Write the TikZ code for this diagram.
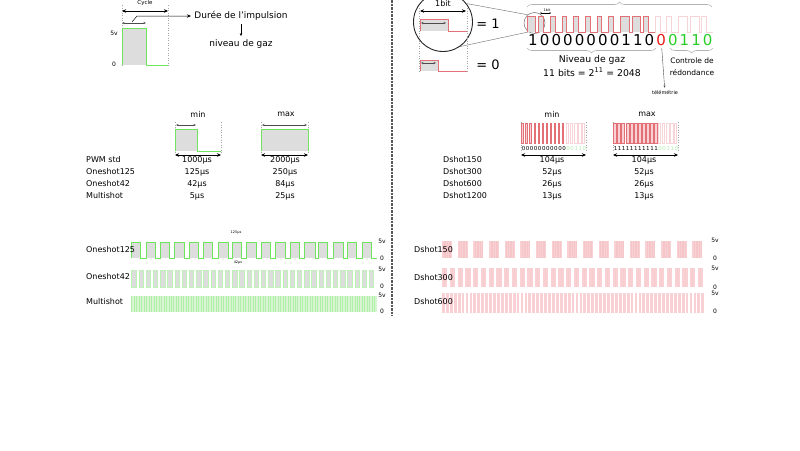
\documentclass[tikz,border=0pt]{standalone}
\usepackage{fontspec}
\setmainfont{DejaVu Sans}
\usetikzlibrary{arrows.meta,decorations.pathreplacing}
\definecolor{pwmgreen}{RGB}{110,228,95}
\definecolor{pulsegray}{RGB}{221,221,221}
\definecolor{dred}{RGB}{226,112,118}
\definecolor{dpink}{RGB}{249,208,211}
\definecolor{dfaint}{RGB}{246,212,215}
\definecolor{bitred}{RGB}{232,24,24}
\definecolor{bitgreen}{RGB}{40,205,40}
\definecolor{msgreen}{RGB}{216,244,210}
\begin{document}
\begin{tikzpicture}[x=1pt,y=-1pt,
    txt/.style={inner sep=0pt,font=\fontsize{8}{10}\selectfont},
    lbl/.style={txt,anchor=west},
    volt/.style={inner sep=0pt,font=\fontsize{6}{7}\selectfont},
    bit/.style={inner sep=0pt,font=\fontsize{15}{16}\selectfont},
    dim/.style={{Stealth[length=4pt,width=3.5pt]}-{Stealth[length=4pt,width=3.5pt]},line width=0.6pt},
    tick/.style={{Stealth[length=2.5pt,width=2pt]}-{Stealth[length=2.5pt,width=2pt]},line width=0.4pt,black!70},
    border/.style={gray!70,dotted,line width=0.5pt},
    gbrace/.style={decorate,decoration={brace,amplitude=5pt},gray!60,line width=0.6pt}]
    \useasboundingbox (0,0) rectangle (800,450);

    \draw[border] (122,5) -- (122,66);
    \draw[border] (168,5) -- (168,66);
    \fill[pulsegray] (122,28) rectangle (146,65);
    \draw[pwmgreen,line width=1pt] (122,65) -- (122,28) -- (146,28) -- (146,65) -- (168,65);
    \draw[dim] (122,11) -- (168,11);
    \draw[tick] (122,23) -- (146,23);
    \node[inner sep=0pt,font=\fontsize{5.5}{6}\selectfont] (cyc) at (145,3) {Cycle};
    \node[volt] (v5a) at (114,33) {5v};
    \node[volt] (v0a) at (114,64) {0};
    \node[font=\fontsize{9}{10}\selectfont] (dur) at (241,16) {Durée de l'impulsion};
    \node[font=\fontsize{9}{10}\selectfont] (gaz) at (241,44) {niveau de gaz};
    \coordinate (pw) at (132,22);
    \draw[-{Stealth[length=4pt,width=3.5pt]},line width=0.5pt] (pw) -- (137,16) -- (dur.west);
    \draw[-{Stealth[length=3pt,width=2.5pt]},line width=0.5pt] (dur) -- (gaz);

    \draw[black!65,line width=1.2pt,dash pattern=on 2.5pt off 1pt] (392,0) -- (392,316);

    \node[circle,draw=black!85,line width=0.9pt,minimum size=59pt,inner sep=0pt] (lens) at (443,22) {};
    \node[circle,draw=gray,line width=0.6pt,minimum size=21pt,inner sep=0pt] (bitc) at (534.5,23) {};
    \draw[gray,line width=0.5pt] (lens.38) -- (bitc.130);
    \draw[gray,line width=0.5pt] (lens.-55) -- (bitc.236);
    \draw[border] (419,8) -- (419,72);
    \draw[border] (467,8) -- (467,72);
    \node[inner sep=0pt,font=\fontsize{8}{9}\selectfont] (onebit) at (443,4) {1bit};
    \draw[dim] (420,11) -- (466,11);
    \fill[pulsegray] (420,19) rectangle (448,31);
    \draw[dred,line width=0.8pt] (420,31) -- (420,19) -- (448,19) -- (448,31) -- (467,31);
    \draw[tick] (421,23) -- (446,23);
    \fill[pulsegray] (420,60) rectangle (438,71);
    \draw[dred,line width=0.8pt] (420,71) -- (420,60) -- (438,60) -- (438,71) -- (467,71);
    \draw[tick] (421,63) -- (436,63);
    \node[inner sep=0pt,font=\fontsize{13}{14}\selectfont] (eq1) at (488,24) {= 1};
    \node[inner sep=0pt,font=\fontsize{13}{14}\selectfont] (eq0) at (488,65) {= 0};

    \foreach \b [count=\i from 0] in {1,0,0,0,0,0,0,0,1,1,0}
        \fill[pulsegray] ({527+\i*11.65},16) rectangle ++({4.8+4.0*\b},16);
    \draw[dred,line width=0.7pt] (527,32) \foreach \b [count=\i from 0] in {1,0,0,0,0,0,0,0,1,1,0} {
        -- ({527+\i*11.65},32) -- ++(0,-16) -- ++({4.8+4.0*\b},0) -- ++(0,16) } -- (655,32);
    \draw[dfaint,line width=0.7pt] (655,32) \foreach \b [count=\i from 11] in {0,0,1,1,0} {
        -- ({527+\i*11.65},32) -- ++(0,-16) -- ++({4.8+4.0*\b},0) -- ++(0,16) } -- (713,32);
    \node[inner sep=0pt,font=\fontsize{3.5}{4}\selectfont] (bitlen) at (547,10) {1bit};
    \draw[{Stealth[length=1.5pt,width=1.5pt]}-{Stealth[length=1.5pt,width=1.5pt]},line width=0.3pt] (540,13) -- (551,13);
    \foreach \b/\c [count=\i from 0] in {1/black,0/black,0/black,0/black,0/black,0/black,0/black,0/black,1/black,1/black,0/black,0/bitred,0/bitgreen,1/bitgreen,1/bitgreen,0/bitgreen}
        \node[bit,text=\c] (d\i) at ({533+\i*11.65},40) {\b};
    \draw[gbrace] (527,7) -- (712,7);
    \draw[gbrace] (656,48) -- (527,48);
    \draw[gbrace] (713,48) -- (670,48);
    \node[inner sep=0pt,font=\fontsize{9.3}{11}\selectfont] (niv) at (592,60) {Niveau de gaz};
    \node[inner sep=0pt,font=\fontsize{9.3}{11}\selectfont] (nbits) at (592,72) {11 bits = 2\textsuperscript{11} = 2048};
    \node[inner sep=0pt,font=\fontsize{7.5}{9}\selectfont] (crc1) at (692,61) {Controle de};
    \node[inner sep=0pt,font=\fontsize{7.5}{9}\selectfont] (crc2) at (692,73) {rédondance};
    \node[inner sep=0pt,font=\fontsize{5}{6}\selectfont] (tel) at (665,93) {télémétrie};
    \draw[-{Stealth[length=2.5pt,width=2pt]},black!70,line width=0.4pt,shorten <=2pt,shorten >=3pt] (d11) -- (tel);

    \node[txt] (mina) at (198,114) {min};
    \node[txt] (maxa) at (286,114) {max};
    \draw[border] (175,122) -- (175,153);
    \draw[border] (221,122) -- (221,153);
    \fill[pulsegray] (175,129) rectangle (197,151);
    \draw[pwmgreen,line width=0.9pt] (175,151) -- (175,129) -- (197,129) -- (197,151) -- (221,151);
    \draw[tick] (176,125) -- (196,125);
    \draw[dim] (175,155) -- (221,155);
    \draw[border] (261,122) -- (261,153);
    \draw[border] (308,122) -- (308,153);
    \fill[pulsegray] (261,129) rectangle (308,151);
    \draw[pwmgreen,line width=0.9pt] (261,151) -- (261,129) -- (308,129) -- (308,151);
    \draw[tick] (262,125) -- (307,125);
    \draw[dim] (261,155) -- (308,155);
    \foreach \n/\a/\b [count=\r from 0] in {PWM std/1000/2000,Oneshot125/125/250,Oneshot42/42/84,Multishot/5/25} {
        \node[lbl] (pl\r) at (86,{160+\r*12}) {\n};
        \node[txt] (pmin\r) at (197,{160+\r*12}) {\a µs};
        \node[txt] (pmax\r) at (285,{160+\r*12}) {\b µs};
    }

    \node[txt] (minb) at (552,114) {min};
    \node[txt] (maxb) at (647,114) {max};
    \draw[border] (521,122) -- (521,152);
    \draw[border] (586,122) -- (586,152);
    \draw[border] (613,122) -- (613,152);
    \draw[border] (678,122) -- (678,152);
    \foreach \b [count=\i from 0] in {0,0,0,0,0,0,0,0,0,0,0} {
        \filldraw[fill=dpink,draw=dred,line width=0.3pt] ({521.5+\i*4.06},123) rectangle ++({1.5+1.5*\b},20);
        \filldraw[fill=dpink,draw=dred,line width=0.3pt] ({613.5+\i*4.06},123) rectangle ++(3,20);
        \node[inner sep=0pt,font=\fontsize{5.5}{6}\selectfont] (mn\i) at ({523.5+\i*4.06},148) {0};
        \node[inner sep=0pt,font=\fontsize{5.5}{6}\selectfont] (mx\i) at ({615.5+\i*4.06},148) {1};
    }
    \foreach \b [count=\i from 11] in {0,0,1,1,0} {
        \draw[dfaint,line width=0.3pt] ({521.5+\i*4.06},123) rectangle ++({1.5+1.5*\b},20);
        \draw[dfaint,line width=0.3pt] ({613.5+\i*4.06},123) rectangle ++({1.5+1.5*\b},20);
        \node[inner sep=0pt,text=bitgreen!35,font=\fontsize{5.5}{6}\selectfont] (mn\i) at ({523.5+\i*4.06},148) {\b};
        \node[inner sep=0pt,text=bitgreen!35,font=\fontsize{5.5}{6}\selectfont] (mx\i) at ({615.5+\i*4.06},148) {\b};
    }
    \draw[dim] (521,155) -- (586,155);
    \draw[dim] (613,155) -- (678,155);
    \foreach \n/\a [count=\r from 0] in {Dshot150/104,Dshot300/52,Dshot600/26,Dshot1200/13} {
        \node[lbl] (dl\r) at (443,{160+\r*12}) {\n};
        \node[txt] (dmin\r) at (552,{160+\r*12}) {\a µs};
        \node[txt] (dmax\r) at (644,{160+\r*12}) {\a µs};
    }

    \foreach \w [count=\k from 0] in {9,9.5,9,10,9,9,10,9,10,9,10,9,11,9,10,9,9}
        \fill[pulsegray] ({131.5+\k*14.4},242) rectangle ++(\w,16);
    \draw[pwmgreen,line width=0.8pt] (131.5,258) \foreach \w [count=\k from 0] in {9,9.5,9,10,9,9,10,9,10,9,10,9,11,9,10,9,9} {
        -- ({131.5+\k*14.4},258) -- ++(0,-16) -- ++(\w,0) -- ++(0,16) } -- (377,258);
    \node[lbl] (os125) at (86,250) {Oneshot125};
    \node[inner sep=0pt,font=\fontsize{3.5}{4}\selectfont] (t125) at (236,233) {125µs};
    \foreach \k in {0,...,33}
        \filldraw[fill=pulsegray,draw=pwmgreen!45,line width=0.3pt] ({131.5+\k*7.2},270) rectangle ++(4.4,17);
    \node[lbl] (os42) at (86,277) {Oneshot42};
    \node[inner sep=0pt,font=\fontsize{3.5}{4}\selectfont] (t42) at (238,263) {42µs};
    \fill[msgreen] (131,296) rectangle (377,312);
    \foreach \k in {0,...,98}
        \draw[pwmgreen!55,line width=0.35pt] ({131.5+\k*2.48},296) -- ++(0,16);
    \node[lbl] (ms) at (86,302) {Multishot};
    \foreach \v/\y in {5v/241,0/258,5v/269,0/286,5v/295,0/311}
        \node[volt] at (382,\y) {\v};

    \foreach \k in {0,...,16} {
        \fill[dpink] ({442+\k*15.65},241) rectangle ++(10,17);
        \foreach \j in {1,...,5}
            \draw[dred!40,line width=0.3pt] ({442+\k*15.65+\j*1.7},241) -- ++(0,17);
    }
    \node[lbl] (ds150) at (414,250) {Dshot150};
    \foreach \k in {0,...,33} {
        \fill[dpink] ({442+\k*7.75},268) rectangle ++(5.3,19);
        \draw[dred!35,line width=0.3pt] ({444.6+\k*7.75},268) -- ++(0,19);
    }
    \node[lbl] (ds300) at (414,278) {Dshot300};
    \foreach \k in {0,...,66}
        \fill[dpink] ({442+\k*3.93},293) rectangle ++(2.8,20);
    \node[lbl] (ds600) at (414,302) {Dshot600};
    \foreach \v/\y in {5v/240,0/258,5v/268,0/287,5v/293,0/311}
        \node[volt] at (715,\y) {\v};
\end{tikzpicture}
\end{document}
